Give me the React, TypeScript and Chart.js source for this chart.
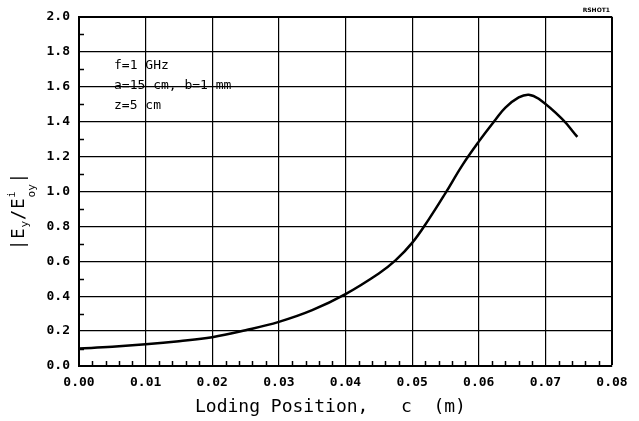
import React, { useEffect, useRef } from "react";
import { Chart, registerables } from "chart.js";

Chart.register(...registerables);

// Loading position c (m)
const positions = [0, 0.005, 0.01, 0.015, 0.02, 0.025, 0.03, 0.035, 0.04, 0.045, 0.0475, 0.05, 0.0525, 0.055, 0.0575, 0.06, 0.0625, 0.064, 0.066, 0.0675, 0.069, 0.0725, 0.0748];
// |Ey / E^i_oy|
const ratios = [0.100, 0.110, 0.124, 0.142, 0.165, 0.205, 0.253, 0.320, 0.412, 0.530, 0.605, 0.705, 0.840, 0.990, 1.148, 1.285, 1.410, 1.480, 1.538, 1.554, 1.530, 1.415, 1.312];

const xMin = 0;
const xMax = 0.08;
const xStep = 0.01;
const xMinorStep = 0.002;
const yMin = 0;
const yMax = 2.0;
const yStep = 0.2;
const yMinorStep = 0.1;

const annotationLines = ["f=1 GHz", "a=15 cm, b=1 mm", "z=5 cm"];
const xTitle = "Loding Position,   c  (m)";
const stamp = "RSHOT1";

const MONO = "'DejaVu Sans Mono', 'Liberation Mono', monospace";

export default function App() {
  const ref = useRef<HTMLCanvasElement>(null);

  useEffect(() => {
    const canvas = ref.current;
    if (!canvas) return;

    const textPlugin = {
      id: "extras",
      afterDraw(chart: any) {
        const { ctx, chartArea: a, scales } = chart;
        const xs = scales.x;
        const ys = scales.y;
        ctx.save();
        ctx.strokeStyle = "#000";
        ctx.lineWidth = 1.5;
        // minor ticks on x (bottom, pointing inward)
        const nx = Math.round((xMax - xMin) / xMinorStep);
        for (let i = 1; i < nx; i++) {
          if (i % Math.round(xStep / xMinorStep) === 0) continue;
          const px = Math.round(xs.getPixelForValue(xMin + i * xMinorStep)) + 0.5;
          ctx.beginPath();
          ctx.moveTo(px, a.bottom);
          ctx.lineTo(px, a.bottom - 5);
          ctx.stroke();
        }
        // minor ticks on y (left, pointing inward)
        const ny = Math.round((yMax - yMin) / yMinorStep);
        for (let i = 1; i < ny; i++) {
          if (i % Math.round(yStep / yMinorStep) === 0) continue;
          const py = Math.round(ys.getPixelForValue(yMin + i * yMinorStep)) + 0.5;
          ctx.beginPath();
          ctx.moveTo(a.left, py);
          ctx.lineTo(a.left + 5, py);
          ctx.stroke();
        }

        ctx.fillStyle = "#000";
        ctx.textAlign = "left";
        ctx.textBaseline = "alphabetic";

        // annotation
        ctx.font = `13px ${MONO}`;
        annotationLines.forEach((t, i) => {
          ctx.fillText(t, a.left + 35, a.top + 52 + i * 20);
        });

        // x title
        ctx.font = `18px ${MONO}`;
        ctx.fillText(xTitle, a.left + 116, 412);

        // y title, rotated
        ctx.save();
        ctx.translate(24, 250);
        ctx.rotate(-Math.PI / 2);
        const big = `17px ${MONO}`;
        const small = `11px ${MONO}`;
        const tiny = `10px ${MONO}`;
        const parts = [
          { t: "|", f: big, dy: 0, adv: true },
          { t: "E", f: big, dy: 0, adv: true },
          { t: "y", f: small, dy: 4, adv: true },
          { t: "/", f: big, dy: 0, adv: true },
          { t: "E", f: big, dy: 0, adv: true },
          { t: "i", f: tiny, dy: -9, adv: false },
          { t: "oy", f: small, dy: 11, adv: true },
          { t: "|", f: big, dy: 0, adv: true },
        ];
        let px = 0;
        for (const p of parts) {
          ctx.font = p.f;
          ctx.fillText(p.t, px, p.dy);
          if (p.adv) px += ctx.measureText(p.t).width + 1;
        }
        ctx.restore();

        // stamp
        ctx.font = `bold 6px 'DejaVu Sans', sans-serif`;
        ctx.textAlign = "right";
        ctx.fillText(stamp, a.right - 2, a.top - 5);
        ctx.restore();
      },
    };

    const isEdge = (v: number, edge: number) => Math.abs(v - edge) < 1e-9;

    const chart = new Chart(canvas, {
      type: "line",
      data: {
        datasets: [
          {
            data: positions.map((x, i) => ({ x, y: ratios[i] })),
            borderColor: "#000",
            borderWidth: 2.5,
            pointRadius: 0,
            fill: false,
            tension: 0.4,
          },
        ],
      },
      options: {
        responsive: false,
        animation: false,
        layout: { padding: { left: 0, right: 27, top: 16, bottom: 0 } },
        plugins: { legend: { display: false }, tooltip: { enabled: false } },
        scales: {
          x: {
            type: "linear",
            min: xMin,
            max: xMax,
            ticks: {
              stepSize: xStep,
              autoSkip: false,
              maxRotation: 0,
              color: "#000",
              padding: 9,
              font: { family: MONO, size: 13, weight: "bold" },
              callback: (v: any) => Number(v).toFixed(2),
            },
            grid: {
              color: "#000",
              drawTicks: false,
              lineWidth: (c: any) => (c.tick && isEdge(c.tick.value, xMax) ? 2 : 1.2),
            },
            border: { color: "#000", width: 2 },
            afterFit: (s: any) => {
              s.height = 55;
            },
          },
          y: {
            type: "linear",
            min: yMin,
            max: yMax,
            ticks: {
              stepSize: yStep,
              autoSkip: false,
              color: "#000",
              padding: 9,
              font: { family: MONO, size: 13, weight: "bold" },
              callback: (v: any) => Number(v).toFixed(1),
            },
            grid: {
              color: "#000",
              drawTicks: false,
              lineWidth: (c: any) => (c.tick && isEdge(c.tick.value, yMax) ? 2 : 1.2),
            },
            border: { color: "#000", width: 2 },
            afterFit: (s: any) => {
              s.width = 79;
            },
          },
        },
      },
      plugins: [textPlugin],
    } as any);

    return () => chart.destroy();
  }, []);

  return (
    <div style={{ position: "absolute", left: 0, top: 0, width: 639, height: 421, background: "#fff" }}>
      <canvas ref={ref} width={639} height={421} style={{ display: "block" }} />
    </div>
  );
}
